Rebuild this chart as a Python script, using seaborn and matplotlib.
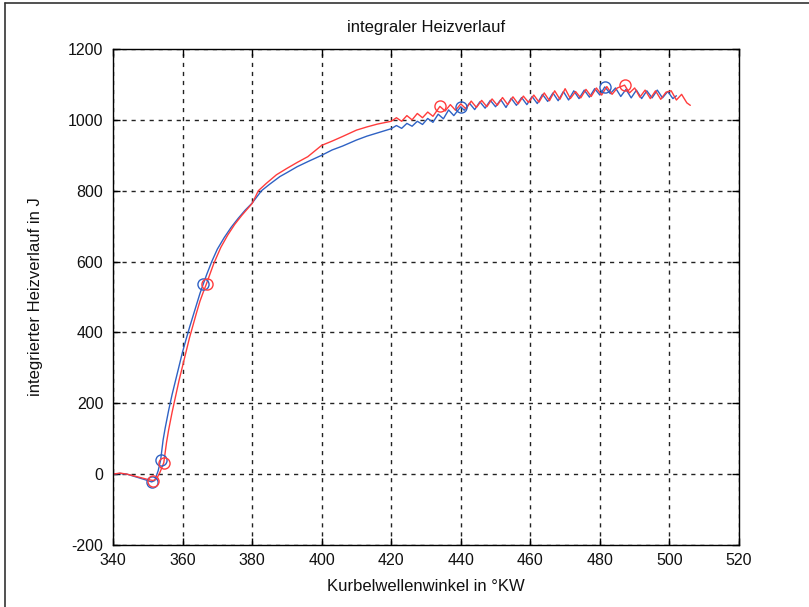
import numpy as np
import pandas as pd
import matplotlib
matplotlib.use("Agg")
import matplotlib.pyplot as plt
import seaborn as sns
from matplotlib.lines import Line2D

# Kurbelwinkel (°KW) und integrierter Heizverlauf (J), Messung 1 (blau)
blue_x = [340, 342, 344, 346, 348, 350, 351.1, 352, 353, 353.7, 354.4, 355, 356, 357, 358,
          359, 360, 361, 362, 363, 364, 365, 366, 367, 368.4, 370, 372, 374, 376, 378,
          380, 382.7, 385, 388, 390, 393, 396, 400, 403, 406, 410, 413, 416, 420, 421.5,
          423, 424.5, 426, 427.5, 429, 430.5, 432, 433.5, 435, 436.5, 438, 440, 441, 442.5,
          444, 445.5, 447, 448.5, 450, 451.5, 453, 454.5, 456, 457.5, 459, 460.5, 462, 463.5,
          465, 466.5, 468, 469.5, 471, 472.5, 474, 475.5, 477, 478.5, 480, 481.4, 483, 484.5,
          486, 487.5, 489, 490.5, 492, 493.5, 495, 496.5, 498, 499.5, 501, 502]
blue_y = [0, 2, 0, -6, -12, -18, -22, -18, 10, 40, 96, 130, 180, 225, 265,
          305, 345, 380, 414, 446, 478, 510, 538, 565, 600, 635, 668, 697, 722, 745,
          765, 800, 818, 840, 851, 868, 882, 900, 915, 926, 943, 954, 963, 975, 984,
          976, 990, 982, 996, 987, 1004, 993, 1016, 1003, 1028, 1012, 1037, 1027, 1047,
          1029, 1051, 1033, 1055, 1037, 1057, 1035, 1061, 1041, 1063, 1043, 1066, 1046, 1072,
          1052, 1076, 1054, 1080, 1056, 1082, 1060, 1084, 1064, 1088, 1070, 1093, 1074, 1090,
          1066, 1086, 1062, 1084, 1060, 1082, 1062, 1084, 1062, 1080, 1060, 1068]

# Messung 2 (rot)
red_x = [340, 342, 344, 346, 348, 350, 351.5, 352.5, 353.5, 354.6, 355.4, 356, 357, 358, 359,
         360, 361, 362, 363, 364, 365, 366, 366.9, 368, 369, 371, 373, 375, 377, 380,
         381.8, 384, 387, 390, 393, 396, 400, 403, 406, 410, 413, 416, 420, 421.5, 423,
         424.5, 426, 427.5, 429, 430.5, 432, 434, 435.5, 437, 438.5, 440, 441.5, 443, 444.5,
         446, 447.5, 449, 450.5, 452, 453.5, 455, 456.5, 458, 459.5, 461, 462.5, 464, 465.5,
         467, 468.5, 470, 471.5, 473, 474.5, 476, 477.5, 479, 480.5, 482, 483.5, 485, 487.1,
         488.5, 490, 491.5, 493, 494.5, 496, 497.5, 499, 500.5, 502, 503.5, 505, 506]
red_y = [0, 3, 0, -5, -10, -15, -18, -14, 5, 32, 90, 125, 175, 220, 265,
         305, 345, 385, 420, 455, 488, 515, 538, 568, 595, 640, 675, 705, 730, 764,
         800, 820, 845, 863, 880, 896, 928, 940, 953, 971, 980, 988, 996, 1006, 996,
         1012, 1000, 1018, 1006, 1022, 1010, 1038, 1025, 1043, 1027, 1045, 1031, 1053, 1035,
         1055, 1037, 1059, 1041, 1063, 1043, 1065, 1045, 1067, 1049, 1070, 1050, 1076, 1054,
         1082, 1058, 1088, 1060, 1080, 1062, 1086, 1066, 1090, 1070, 1094, 1072, 1090, 1098,
         1076, 1090, 1064, 1084, 1060, 1082, 1058, 1078, 1082, 1056, 1072, 1048, 1041]

# markierte Punkte (Minimum, Brennbeginn, 50 %-Umsatz, Brennende, Maximum)
blue_mark_x = [351.1, 353.7, 366.0, 440.0, 481.4]
blue_mark_y = [-22, 40, 538, 1037, 1093]
red_mark_x = [351.5, 354.6, 366.9, 434.0, 487.1]
red_mark_y = [-18, 32, 538, 1038, 1098]

x_ticks = [340, 360, 380, 400, 420, 440, 460, 480, 500, 520]
y_ticks = [-200, 0, 200, 400, 600, 800, 1000, 1200]

BLUE = "#2f62c4"
RED = "#ff3c3c"

sns.set_theme(style="white")
plt.rcParams["font.family"] = ["Liberation Sans", "DejaVu Sans"]
plt.rcParams["axes.unicode_minus"] = False

fig = plt.figure(figsize=(8.09, 6.07), dpi=100)
ax = fig.add_axes([113 / 809, 1 - 545 / 607, (739 - 113) / 809, (545 - 49) / 607])

df = pd.concat([
    pd.DataFrame({"KW": blue_x, "Q": blue_y, "Messung": "1"}),
    pd.DataFrame({"KW": red_x, "Q": red_y, "Messung": "2"}),
])
sns.lineplot(data=df, x="KW", y="Q", hue="Messung", palette={"1": BLUE, "2": RED},
             sort=False, estimator=None, linewidth=1.0, legend=False, ax=ax)

ax.plot(blue_mark_x, blue_mark_y, "o", mfc="none", mec=BLUE, ms=8, mew=1.0)
ax.plot(red_mark_x, red_mark_y, "o", mfc="none", mec=RED, ms=8, mew=1.0)

ax.set_xlim(340, 520)
ax.set_ylim(-200, 1200)
ax.set_xticks(x_ticks)
ax.set_yticks(y_ticks)
ax.set_xticklabels([str(v) for v in x_ticks])
ax.set_yticklabels([str(v) for v in y_ticks])

ax.grid(True, color="#222222", linestyle=(0, (3, 3.5)), linewidth=1.0)
ax.set_axisbelow(True)
for sp in ax.spines.values():
    sp.set_visible(True)
    sp.set_color("black")
    sp.set_linewidth(1.0)
ax.tick_params(direction="in", length=5, width=1, color="black", labelsize=11.5,
               labelcolor="#111111", top=True, right=True, bottom=True, left=True)
ax.tick_params(axis="x", pad=6)
ax.tick_params(axis="y", pad=7)

ax.set_title("integraler Heizverlauf", fontsize=12, color="#111111", pad=12)
ax.set_xlabel("Kurbelwellenwinkel in °KW", fontsize=12, color="#111111", labelpad=8)
ax.set_ylabel("integrierter Heizverlauf in J", fontsize=12, color="#111111", labelpad=18)

# Rahmen oben und links
fig.add_artist(Line2D([5 / 809, 1], [1 - 3 / 607, 1 - 3 / 607], color="#333333", lw=1.2,
                      transform=fig.transFigure))
fig.add_artist(Line2D([5 / 809, 5 / 809], [0, 1 - 3 / 607], color="#333333", lw=1.2,
                      transform=fig.transFigure))

fig.savefig("out.png", dpi=100, facecolor="white")
